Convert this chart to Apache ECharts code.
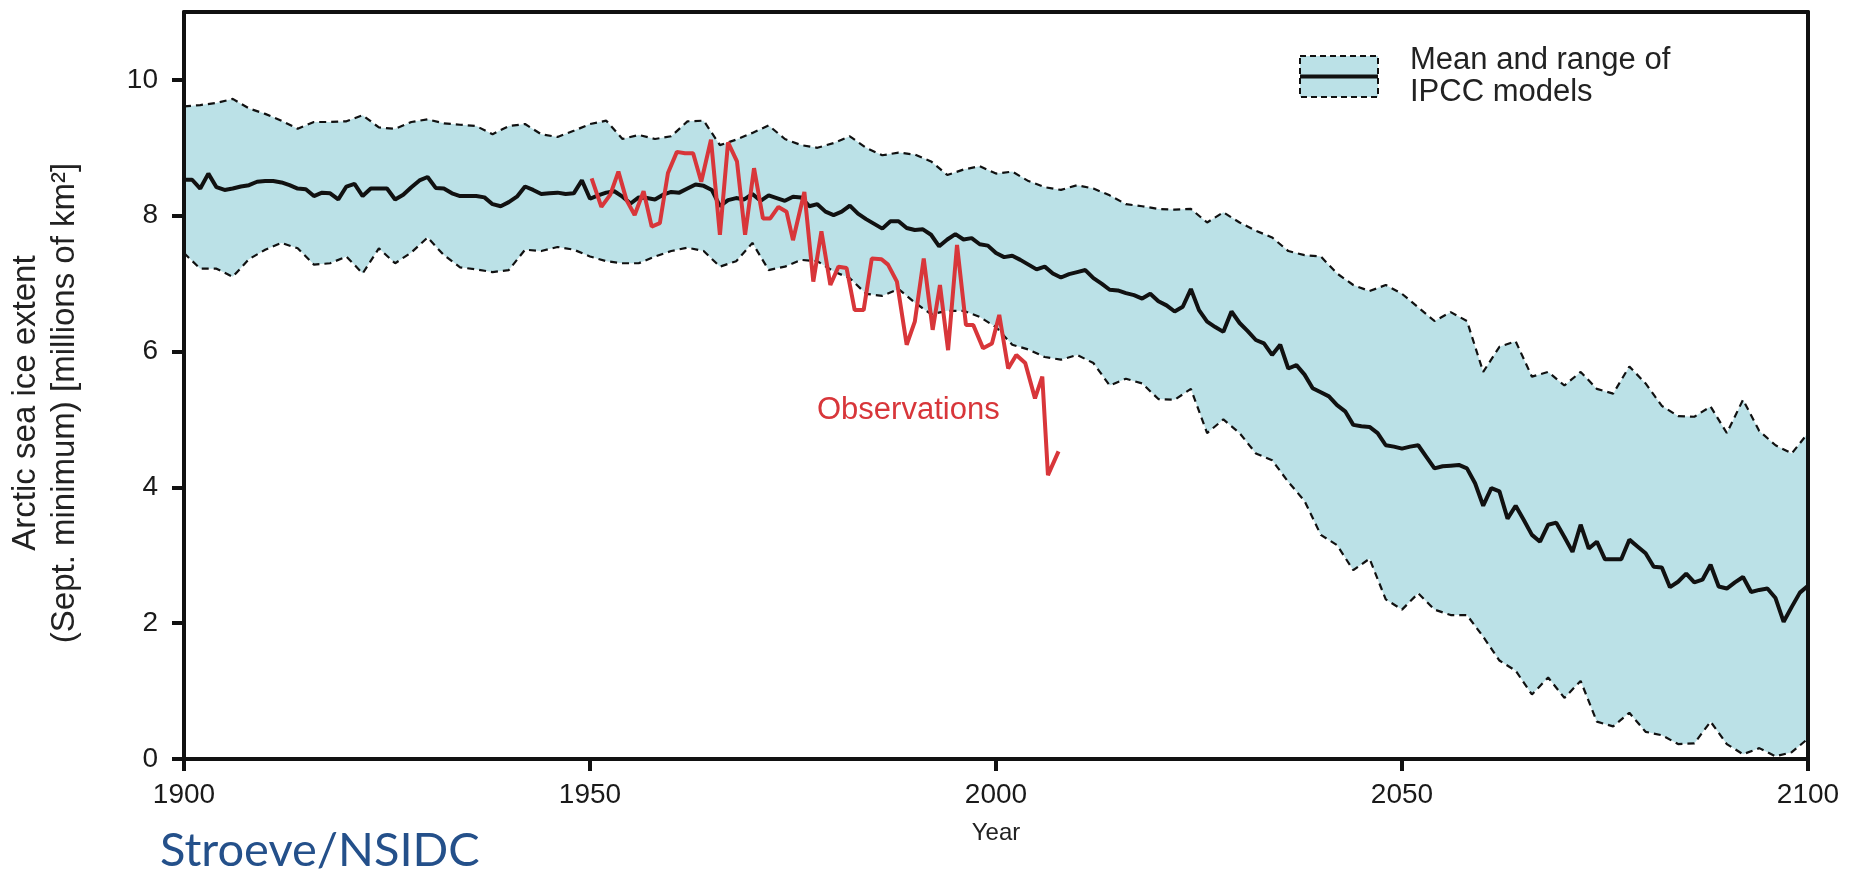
<!DOCTYPE html>
<html lang="en">
<head>
<meta charset="UTF-8">
<title>Arctic sea ice extent</title>
<script src="https://cdn.jsdelivr.net/npm/echarts@6.0.0/dist/echarts.min.js"></script>
<style>
    html, body { margin: 0; padding: 0; background: #fff; }
    #box { width: 1860px; height: 877px; }
</style>
</head>
<body>
<div id="box"></div>
<script>
    // model mean, one value per year 1900..2100
    var meanStart = 1900;
    var meanValues = [
        8.53, 8.53, 8.40, 8.62, 8.42, 8.38, 8.40, 8.43, 8.45, 8.50,
        8.51, 8.51, 8.49, 8.45, 8.40, 8.39, 8.29, 8.34, 8.33, 8.24,
        8.43, 8.47, 8.29, 8.40, 8.40, 8.40, 8.24, 8.31, 8.42, 8.52,
        8.57, 8.41, 8.40, 8.33, 8.29, 8.29, 8.29, 8.27, 8.17, 8.14,
        8.20, 8.28, 8.43, 8.38, 8.32, 8.33, 8.34, 8.32, 8.33, 8.52,
        8.25, 8.30, 8.34, 8.36, 8.28, 8.18, 8.27, 8.26, 8.24, 8.31,
        8.35, 8.34, 8.40, 8.46, 8.44, 8.38, 8.14, 8.23, 8.26, 8.24,
        8.32, 8.22, 8.30, 8.26, 8.22, 8.28, 8.27, 8.14, 8.17, 8.06,
        8.01, 8.06, 8.15, 8.03, 7.95, 7.88, 7.81, 7.92, 7.92, 7.82,
        7.79, 7.80, 7.72, 7.55, 7.65, 7.73, 7.65, 7.67, 7.58, 7.56,
        7.45, 7.39, 7.41, 7.35, 7.28, 7.21, 7.25, 7.15, 7.09, 7.14,
        7.17, 7.20, 7.08, 7.00, 6.91, 6.90, 6.86, 6.83, 6.78, 6.85,
        6.74, 6.68, 6.59, 6.66, 6.92, 6.61, 6.44, 6.36, 6.29, 6.59,
        6.42, 6.30, 6.17, 6.12, 5.95, 6.10, 5.75, 5.80, 5.66, 5.46,
        5.40, 5.34, 5.21, 5.12, 4.92, 4.90, 4.89, 4.80, 4.62, 4.60,
        4.57, 4.60, 4.62, 4.45, 4.28, 4.31, 4.32, 4.33, 4.28, 4.06,
        3.73, 3.99, 3.94, 3.54, 3.73, 3.52, 3.30, 3.20, 3.45, 3.48,
        3.27, 3.05, 3.45, 3.10, 3.20, 2.94, 2.94, 2.94, 3.23, 3.13,
        3.03, 2.83, 2.82, 2.53, 2.61, 2.73, 2.60, 2.64, 2.86, 2.54,
        2.51, 2.60, 2.68, 2.46, 2.49, 2.51, 2.37, 2.02, 2.24, 2.45,
        2.55
    ];

    // model range, every second year 1900..2100
    var bandStart = 1900;
    var bandStep = 2;
    var upperValues = [
        9.61, 9.63, 9.66, 9.72, 9.58, 9.50, 9.40, 9.28, 9.38, 9.38,
        9.39, 9.48, 9.30, 9.28, 9.38, 9.42, 9.36, 9.34, 9.32, 9.20,
        9.32, 9.35, 9.20, 9.16, 9.25, 9.35, 9.40, 9.13, 9.19, 9.13,
        9.17, 9.39, 9.40, 9.04, 9.12, 9.22, 9.33, 9.13, 9.04, 9.00,
        9.07, 9.17, 9.00, 8.89, 8.93, 8.90, 8.80, 8.60, 8.68, 8.73,
        8.62, 8.65, 8.51, 8.42, 8.38, 8.45, 8.40, 8.30, 8.17, 8.14,
        8.10, 8.09, 8.10, 7.90, 8.05, 7.90, 7.78, 7.68, 7.48, 7.42,
        7.40, 7.15, 6.98, 6.89, 6.98, 6.85, 6.65, 6.45, 6.58, 6.45,
        5.70, 6.07, 6.15, 5.63, 5.70, 5.50, 5.70, 5.45, 5.38, 5.78,
        5.53, 5.20, 5.05, 5.04, 5.19, 4.80, 5.29, 4.83, 4.62, 4.50,
        4.80
    ];
    var lowerValues = [
        7.45, 7.22, 7.22, 7.10, 7.36, 7.50, 7.60, 7.52, 7.28, 7.30,
        7.40, 7.15, 7.52, 7.30, 7.46, 7.68, 7.42, 7.24, 7.21, 7.17,
        7.20, 7.50, 7.48, 7.54, 7.50, 7.40, 7.33, 7.30, 7.30, 7.40,
        7.48, 7.53, 7.48, 7.25, 7.33, 7.60, 7.20, 7.25, 7.35, 7.33,
        7.18, 7.08, 6.85, 6.82, 6.92, 6.72, 6.55, 6.60, 6.60, 6.51,
        6.36, 6.10, 6.03, 5.92, 5.88, 5.95, 5.83, 5.50, 5.60, 5.53,
        5.30, 5.29, 5.45, 4.80, 5.00, 4.80, 4.50, 4.40, 4.08, 3.80,
        3.30, 3.15, 2.78, 2.95, 2.35, 2.20, 2.44, 2.20, 2.12, 2.12,
        1.80, 1.45, 1.30, 0.95, 1.20, 0.90, 1.15, 0.55, 0.48, 0.68,
        0.40, 0.35, 0.22, 0.23, 0.55, 0.22, 0.07, 0.16, 0.04, 0.10,
        0.30
    ];

    // observations (year as placed in the figure)
    var obsYears = [
        1950.2, 1951.4, 1952.5, 1953.5, 1954.5, 1955.5, 1956.6, 1957.6, 1958.6, 1959.6,
        1960.7, 1961.7, 1962.7, 1963.7, 1964.9, 1966.0, 1967.0, 1968.1, 1969.1, 1970.2,
        1971.3, 1972.2, 1973.2, 1974.2, 1975.0, 1976.4, 1977.5, 1978.5, 1979.6, 1980.6,
        1981.6, 1982.6, 1983.7, 1984.7, 1985.9, 1986.7, 1987.8, 1989.0, 1990.0, 1991.1,
        1992.2, 1993.1, 1994.1, 1995.2, 1996.3, 1997.2, 1998.4, 1999.5, 2000.4, 2001.5,
        2002.5, 2003.6, 2004.8, 2005.7, 2006.4, 2007.7
    ];
    var obsValues = [
        8.55, 8.13, 8.31, 8.65, 8.23, 8.01, 8.36, 7.84, 7.89, 8.63,
        8.94, 8.92, 8.92, 8.50, 9.12, 7.72, 9.08, 8.80, 7.72, 8.70,
        7.96, 7.96, 8.13, 8.06, 7.64, 8.35, 7.03, 7.77, 6.98, 7.25,
        7.23, 6.61, 6.61, 7.37, 7.36, 7.28, 7.03, 6.10, 6.44, 7.37,
        6.32, 6.98, 6.02, 7.57, 6.39, 6.39, 6.05, 6.12, 6.54, 5.75,
        5.95, 5.83, 5.31, 5.63, 4.18, 4.53
    ];

    var xTicks = [1900, 1950, 2000, 2050, 2100];
    var yTicks = [0, 2, 4, 6, 8, 10];

    var bandColor = 'rgb(187,225,231)';
    var obsColor = '#d8363a';
    var ink = '#111';
    var labelFont = '"Liberation Sans", Arial, Helvetica, sans-serif';

    function bandYear(i) { return bandStart + i * bandStep; }

    var meanData = meanValues.map(function (v, i) { return [meanStart + i, v]; });
    var upperData = upperValues.map(function (v, i) { return [bandYear(i), v]; });
    var lowerData = lowerValues.map(function (v, i) { return [bandYear(i), v]; });
    var bandData = upperValues.map(function (v, i) { return [bandYear(i), lowerValues[i], v]; });
    var obsData = obsValues.map(function (v, i) { return [obsYears[i], v]; });

    // the whole shaded range as one polygon: upper edge forward, lower edge back
    function renderBand(params, api) {
        if (params.dataIndex !== 0) return null;
        var pts = [];
        for (var i = 0; i < upperValues.length; i++) {
            pts.push(api.coord([bandYear(i), upperValues[i]]));
        }
        for (var j = lowerValues.length - 1; j >= 0; j--) {
            pts.push(api.coord([bandYear(j), lowerValues[j]]));
        }
        return { type: 'polygon', shape: { points: pts }, style: { fill: bandColor } };
    }

    var dashed = { color: ink, width: 2.2, type: [7, 5] };
    var yearLabel = function (v) { return String(v); };

    var myChart = echarts.init(document.getElementById('box'));
    var option = {
        animation: false,
        grid: { left: 184, right: 52, top: 12, bottom: 118 },
        xAxis: [
            {
                type: 'value', min: 1900, max: 2100, interval: 50, z: 10,
                name: 'Year', nameLocation: 'middle', nameGap: 62,
                nameTextStyle: { fontFamily: labelFont, fontSize: 24, color: '#222' },
                axisLine: { show: true, lineStyle: { color: ink, width: 4 } },
                axisTick: { show: true, length: 12, lineStyle: { color: ink, width: 4 }, customValues: xTicks },
                axisLabel: { fontFamily: labelFont, fontSize: 28, color: '#1a1a1a', margin: 22, customValues: xTicks, formatter: yearLabel },
                splitLine: { show: false }
            },
            {
                type: 'value', position: 'top', min: 1900, max: 2100, z: 10,
                axisLine: { show: true, onZero: false, lineStyle: { color: ink, width: 4 } },
                axisTick: { show: false }, axisLabel: { show: false }, splitLine: { show: false }
            }
        ],
        yAxis: [
            {
                type: 'value', min: 0, max: 11, interval: 1, z: 10,
                axisLine: { show: true, lineStyle: { color: ink, width: 4 } },
                axisTick: { show: true, length: 12, lineStyle: { color: ink, width: 4 }, customValues: yTicks },
                axisLabel: { fontFamily: labelFont, fontSize: 28, color: '#1a1a1a', margin: 26, customValues: yTicks },
                splitLine: { show: false }
            },
            {
                type: 'value', position: 'right', min: 0, max: 11, z: 10,
                axisLine: { show: true, onZero: false, lineStyle: { color: ink, width: 4 } },
                axisTick: { show: false }, axisLabel: { show: false }, splitLine: { show: false }
            }
        ],
        series: [
            {
                name: 'range', type: 'custom', data: bandData, renderItem: renderBand,
                encode: { x: 0, y: [1, 2] }, z: 1, silent: true
            },
            {
                name: 'upper', type: 'line', data: upperData,
                symbol: 'none', lineStyle: dashed, z: 3, silent: true
            },
            {
                name: 'lower', type: 'line', data: lowerData,
                symbol: 'none', lineStyle: dashed, z: 3, silent: true
            },
            {
                name: 'mean', type: 'line', data: meanData,
                symbol: 'none', lineStyle: { color: ink, width: 4 }, z: 4
            },
            {
                name: 'Observations', type: 'line', data: obsData,
                symbol: 'none', lineStyle: { color: obsColor, width: 4 }, z: 5
            }
        ],
        graphic: [
            // y axis title, two rotated lines
            {
                type: 'text', x: 45, y: 403, rotation: Math.PI / 2, z: 20,
                style: {
                    text: 'Arctic sea ice extent\n(Sept. minimum) [millions of km\u00b2]',
                    font: '33px ' + labelFont, fill: '#222',
                    textAlign: 'center', textVerticalAlign: 'middle', lineHeight: 39
                }
            },
            // legend
            {
                type: 'rect', z: 20,
                shape: { x: 1300, y: 56, width: 78, height: 41 },
                style: { fill: bandColor, stroke: ink, lineWidth: 2, lineDash: [6, 4] }
            },
            {
                type: 'line', z: 21,
                shape: { x1: 1300, y1: 76.5, x2: 1378, y2: 76.5 },
                style: { stroke: ink, lineWidth: 4 }
            },
            {
                type: 'text', x: 1410, y: 76.5, z: 20,
                style: {
                    text: 'Mean and range of\nIPCC models',
                    font: '31px ' + labelFont, fill: '#222',
                    textAlign: 'left', textVerticalAlign: 'middle', lineHeight: 32
                }
            },
            {
                type: 'text', x: 817, y: 410, z: 20,
                style: {
                    text: 'Observations', font: '31px ' + labelFont, fill: obsColor,
                    textAlign: 'left', textVerticalAlign: 'middle'
                }
            },
            {
                type: 'text', x: 160, y: 851, z: 20,
                style: {
                    text: 'Stroeve/NSIDC', font: '47px Lato, "Open Sans", sans-serif', fill: '#24508a',
                    textAlign: 'left', textVerticalAlign: 'middle'
                }
            }
        ]
    };
    myChart.setOption(option);
</script>
</body>
</html>
